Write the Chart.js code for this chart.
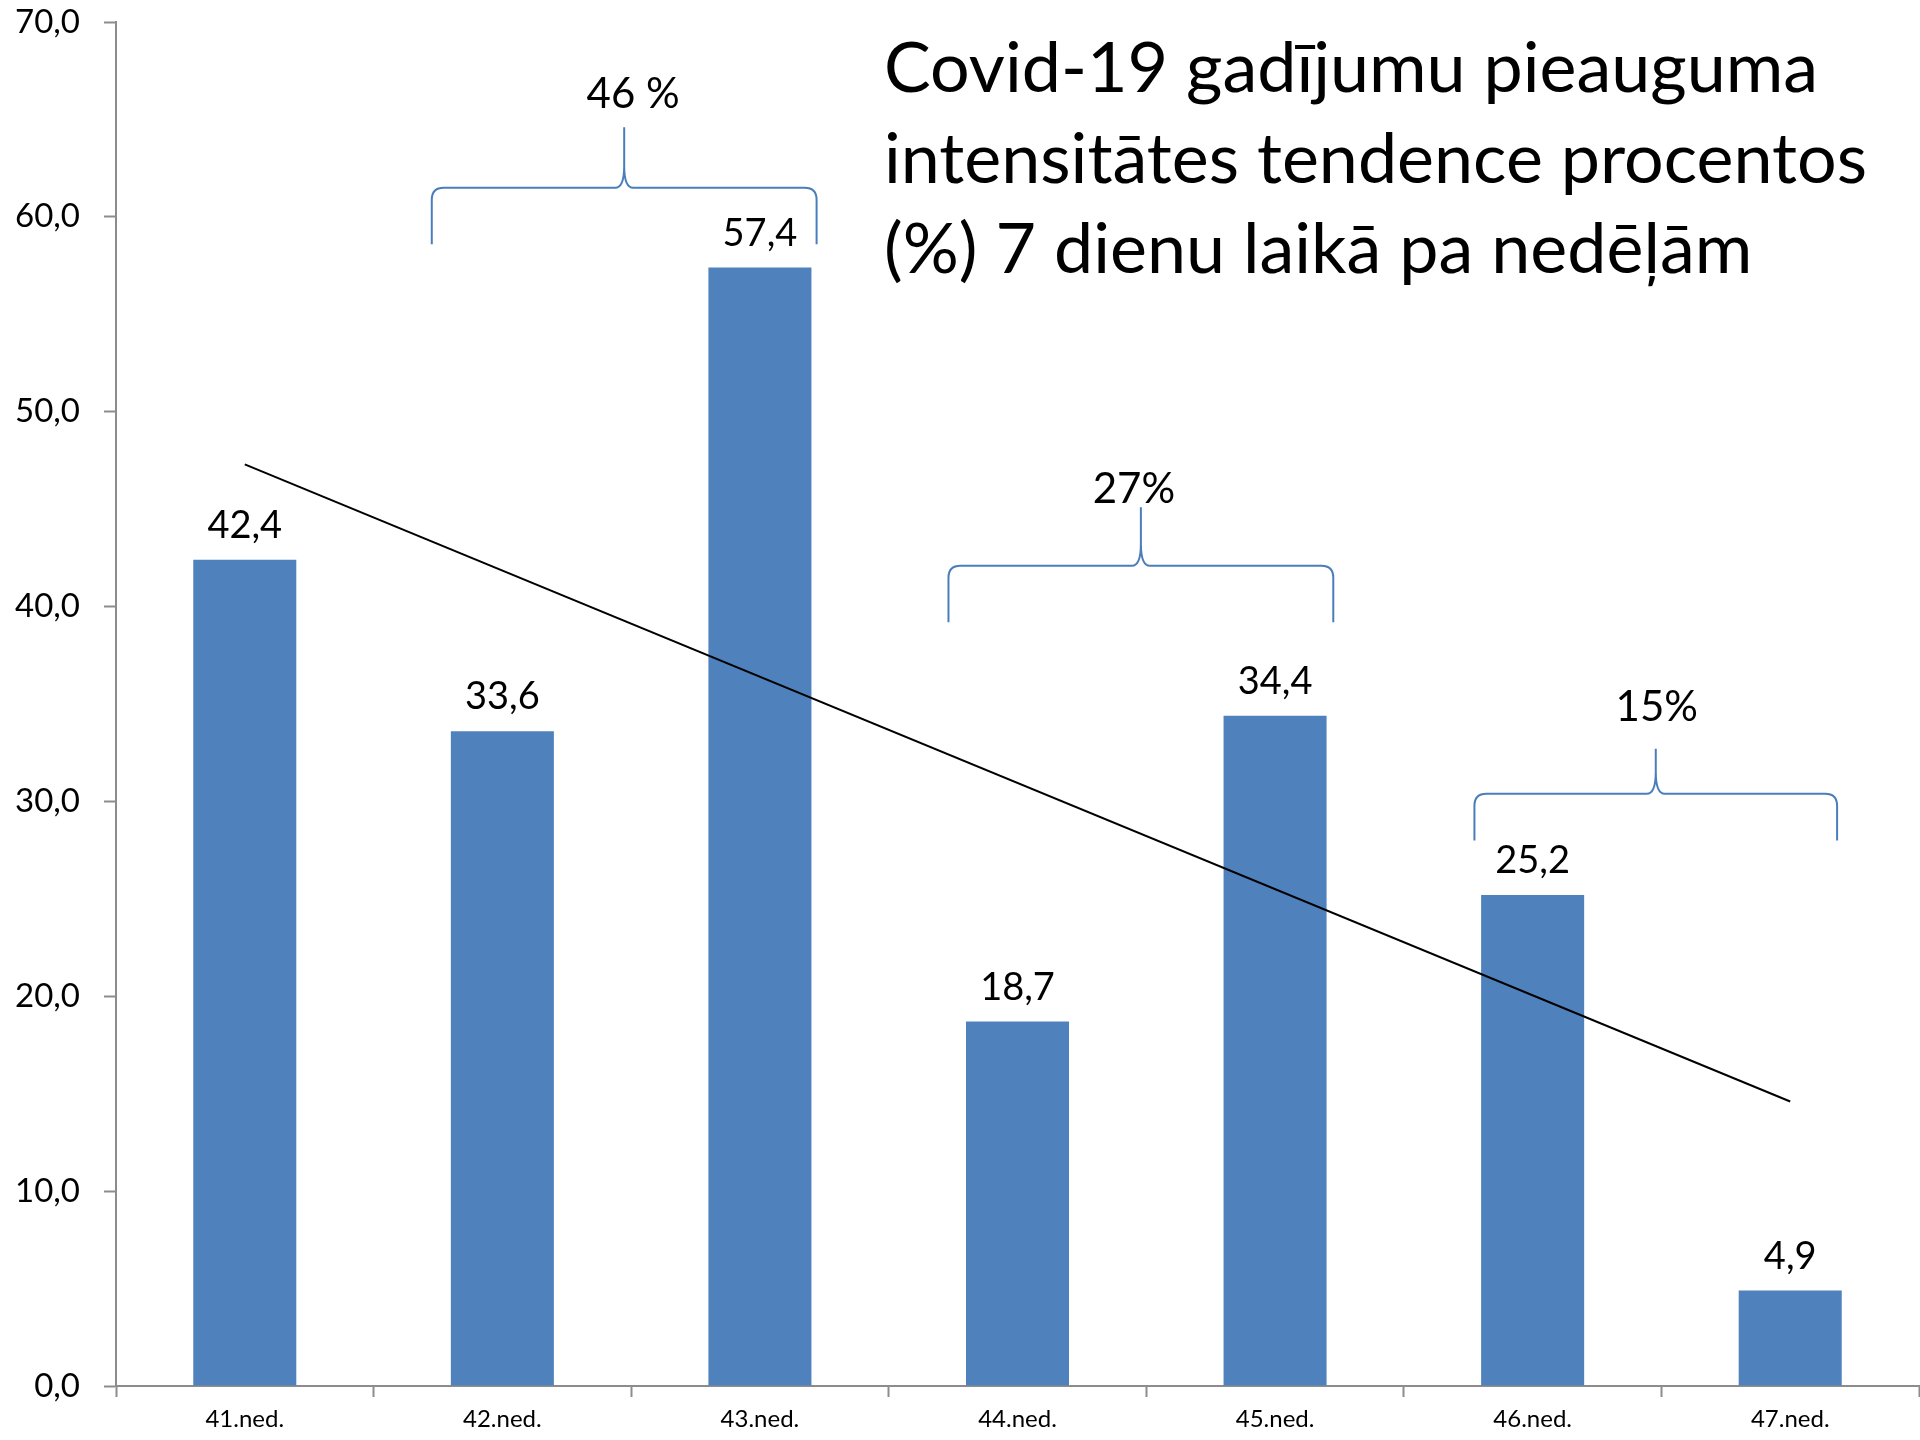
<!DOCTYPE html>
<html>
<head>
<meta charset="utf-8">
<script src="https://cdn.jsdelivr.net/npm/chart.js@4/dist/chart.umd.min.js"></script>
<style>
  html, body { margin: 0; padding: 0; background: #ffffff; }
  #wrap { width: 1920px; height: 1440px; position: relative; }
</style>
</head>
<body>
<div id="wrap"><canvas id="c" width="1920" height="1440"></canvas></div>
<script>
// ---- data ----
const categories = ['41.ned.', '42.ned.', '43.ned.', '44.ned.', '45.ned.', '46.ned.', '47.ned.'];
const values = [42.4, 33.6, 57.4, 18.7, 34.4, 25.2, 4.9];
// trend line end values (first and last week)
const trendValues = [47.3, null, null, null, null, null, 14.6];
const yTicks = [0, 10, 20, 30, 40, 50, 60, 70];
const titleLines = [
  'Covid-19 gadījumu pieauguma',
  'intensitātes tendence procentos',
  '(%) 7 dienu laikā pa nedēļām'
];
const bracketLabels = ['46 %', '27%', '15%'];

// ---- annotation layout (category units / value units) ----
const bracketLayout = [
  { from: 0.726, to: 2.220, end: 58.6, bar: 61.5, peak: 64.6, labelY: 66.3, labelDx: 9 },
  { from: 2.732, to: 4.226, end: 39.2, bar: 42.1, peak: 45.1, labelY: 46.0, labelDx: -7 },
  { from: 4.774, to: 6.182, end: 28.0, bar: 30.4, peak: 32.7, labelY: 34.8, labelDx: 1 }
];

const FONT = 'Lato, "Open Sans", "Noto Sans", sans-serif';
const BAR_COLOR = '#4F81BD';
const BRACE_COLOR = '#4A7EBB';
const AXIS_COLOR = '#8C8C8C';

function fmt(v) { return v.toFixed(1).replace('.', ','); }

const valueLabels = {
  id: 'valueLabels',
  afterDatasetsDraw(chart) {
    const ctx = chart.ctx;
    const meta = chart.getDatasetMeta(0);
    ctx.save();
    ctx.fillStyle = '#000';
    ctx.font = '38px ' + FONT;
    ctx.textAlign = 'center';
    ctx.textBaseline = 'alphabetic';
    meta.data.forEach((bar, i) => {
      ctx.fillText(fmt(values[i]), bar.x, bar.y - 22);
    });
    ctx.restore();
  }
};

const brackets = {
  id: 'brackets',
  afterDatasetsDraw(chart) {
    const ctx = chart.ctx;
    const xs = chart.scales.x, ys = chart.scales.y;
    const x0 = xs.getPixelForValue(0);
    const cw = xs.getPixelForValue(1) - x0;
    const px = u => x0 + u * cw;
    ctx.save();
    bracketLayout.forEach((b, i) => {
      const L = px(b.from), R = px(b.to);
      const M = (L + R) / 2;
      const yE = ys.getPixelForValue(b.end);
      const yH = ys.getPixelForValue(b.bar);
      const yP = ys.getPixelForValue(b.peak);
      const r = 12;
      ctx.beginPath();
      ctx.strokeStyle = BRACE_COLOR;
      ctx.lineWidth = 2;
      ctx.moveTo(L, yE);
      ctx.lineTo(L, yH + r);
      ctx.quadraticCurveTo(L, yH, L + r, yH);
      ctx.lineTo(M - 9, yH);
      ctx.quadraticCurveTo(M, yH, M, yH - 22);
      ctx.lineTo(M, yP);
      ctx.moveTo(M, yH - 22);
      ctx.quadraticCurveTo(M, yH, M + 9, yH);
      ctx.lineTo(R - r, yH);
      ctx.quadraticCurveTo(R, yH, R, yH + r);
      ctx.lineTo(R, yE);
      ctx.stroke();

      ctx.fillStyle = '#000';
      ctx.font = '42px ' + FONT;
      ctx.textAlign = 'center';
      ctx.textBaseline = 'middle';
      ctx.fillText(bracketLabels[i], M + b.labelDx, ys.getPixelForValue(b.labelY));
    });
    ctx.restore();
  }
};

const titleText = {
  id: 'titleText',
  afterDraw(chart) {
    const ctx = chart.ctx;
    ctx.save();
    ctx.fillStyle = '#000';
    ctx.font = '70px ' + FONT;
    ctx.textAlign = 'left';
    ctx.textBaseline = 'alphabetic';
    titleLines.forEach((t, i) => ctx.fillText(t, 884, 92 + i * 90.5));
    ctx.restore();
  }
};

new Chart(document.getElementById('c'), {
  data: {
    labels: categories,
    datasets: [
      {
        type: 'bar',
        data: values,
        backgroundColor: BAR_COLOR,
        borderWidth: 0,
        categoryPercentage: 1.0,
        barPercentage: 0.4,
        order: 1
      },
      {
        type: 'line',
        data: trendValues,
        spanGaps: true,
        borderColor: '#000',
        borderWidth: 2,
        pointRadius: 0,
        fill: false,
        tension: 0,
        order: 0
      }
    ]
  },
  options: {
    responsive: false,
    animation: false,
    devicePixelRatio: 1,
    layout: { padding: { top: 22, right: 1, left: 0, bottom: 0 } },
    plugins: {
      legend: { display: false },
      tooltip: { enabled: false },
      title: { display: false }
    },
    scales: {
      x: {
        type: 'category',
        offset: true,
        grid: {
          display: true,
          drawOnChartArea: false,
          drawTicks: true,
          tickLength: 11,
          tickColor: AXIS_COLOR,
          tickWidth: 2,
          offset: true
        },
        border: { display: true, color: AXIS_COLOR, width: 2 },
        ticks: {
          color: '#000',
          font: { family: FONT, size: 24 },
          padding: 8,
          maxRotation: 0,
          autoSkip: false
        },
        afterFit(scale) { scale.height = 54; scale.paddingLeft = 0; scale.paddingRight = 0; }
      },
      y: {
        min: 0,
        max: 70,
        afterBuildTicks(scale) { scale.ticks = yTicks.map(v => ({ value: v })); },
        grid: {
          display: true,
          drawOnChartArea: false,
          drawTicks: true,
          tickLength: 12,
          tickColor: AXIS_COLOR,
          tickWidth: 2
        },
        border: { display: true, color: AXIS_COLOR, width: 2 },
        ticks: {
          color: '#000',
          font: { family: FONT, size: 33 },
          padding: 24,
          callback: v => fmt(v)
        },
        afterFit(scale) { scale.width = 116; scale.paddingTop = 0; scale.paddingBottom = 0; }
      }
    }
  },
  plugins: [valueLabels, brackets, titleText]
});
</script>
</body>
</html>
